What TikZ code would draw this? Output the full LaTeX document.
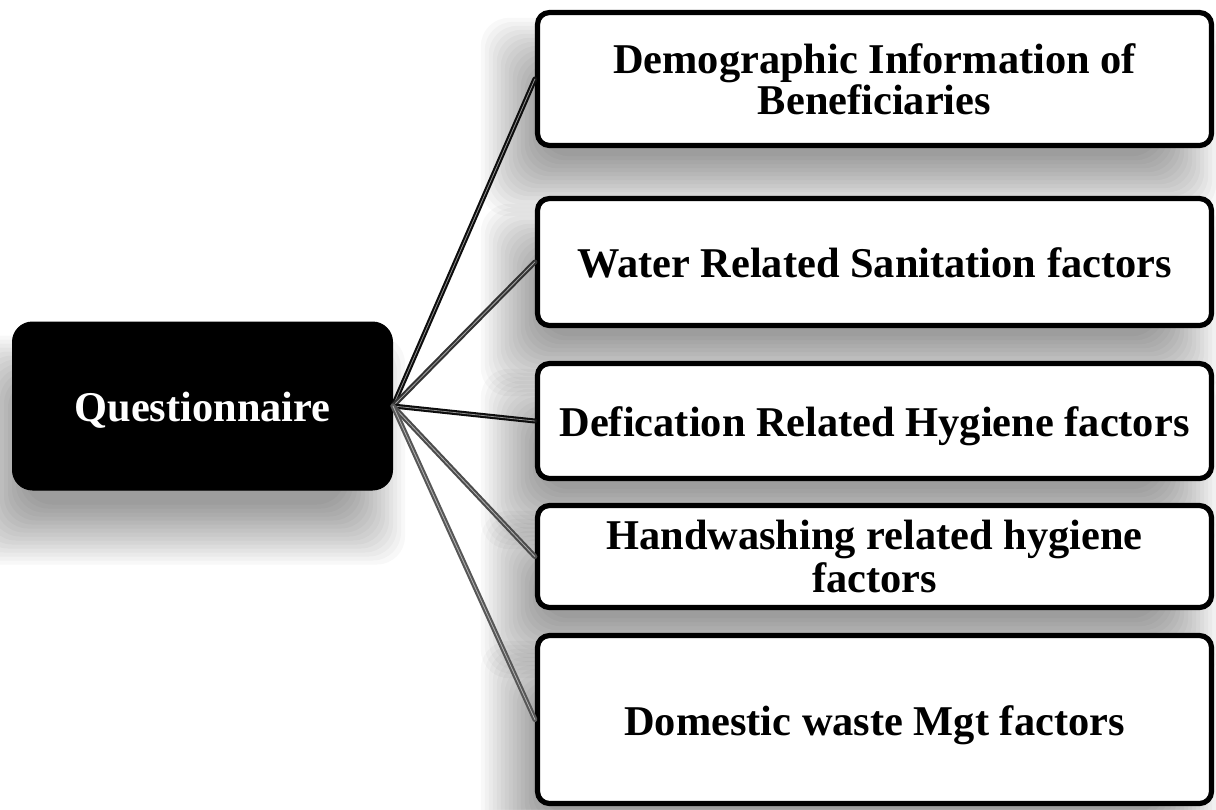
\documentclass[tikz,border=0pt]{standalone}
\usepackage{fontspec}
\setmainfont{Liberation Serif}
\usetikzlibrary{calc,backgrounds}
\colorlet{lineA}{black!95}
\colorlet{lineB}{black!80}
\colorlet{lineC}{black!70}
\colorlet{lineD}{black!66}
\newcommand\castshadow[3]{% node, xshift px, yshift px
  \foreach \i in {0,...,15}{%
    \pgfmathsetmacro\e{30-60*\i/15}%
    \fill[black, opacity=0.028, rounded corners=14pt]
      ($(#1.north west)+({#2-\e},{#3-\e})$) rectangle
      ($(#1.south east)+({#2+\e},{#3+\e})$);
  }%
}
\begin{document}
\begin{tikzpicture}[x=0.5pt,y=-0.5pt,
  bigfont/.style={font=\fontsize{21.2}{19}\selectfont\bfseries},
  oneline/.style={text height=20pt, text depth=4.2pt},
  item/.style={draw=black, line width=2.6pt, fill=white, rounded corners=6pt,
      minimum width=337pt, inner sep=0pt, align=center, text=black, bigfont},
  qbox/.style={draw=black, line width=0.5pt, fill=black, rounded corners=10pt,
      minimum width=190pt, minimum height=84pt, inner sep=0pt, text=white,
      bigfont, oneline},
  conn/.style={line width=2.5pt, line cap=round, draw=#1,
      postaction={draw=#1!45!white, line width=0.4pt}}
]
\useasboundingbox (0,0) rectangle (1216,809);

\node[qbox] (q) at (202.5,406) {Questionnaire};

\node[item, minimum height=66.5pt] (b1) at (874.5,79)
  {Demographic Information of\\Beneficiaries};
\node[item, oneline, minimum height=63.5pt] (b2) at (874.5,262)
  {Water Related Sanitation factors};
\node[item, oneline, minimum height=57.5pt] (b3) at (874.5,421)
  {Defication Related Hygiene factors};
\node[item, minimum height=51pt, font=\fontsize{21.2}{21.5}\selectfont\bfseries] (b4) at (874.5,556.5)
  {Handwashing related hygiene\\factors};
\node[item, oneline, minimum height=84pt] (b5) at (874.5,719.5)
  {Domestic waste Mgt factors};

\begin{scope}[on background layer]
  \fill[white] (0,0) rectangle (1216,809);
  \castshadow{q}{-18}{44}
  \castshadow{b1}{-24}{38}
  \castshadow{b2}{-24}{38}
  \castshadow{b3}{-24}{38}
  \castshadow{b4}{-24}{38}
  \castshadow{b5}{-24}{38}
\end{scope}

\draw[conn=lineA] (q.east) -- (b1.west);
\draw[conn=lineB] (q.east) -- (b2.west);
\draw[conn=lineA] (q.east) -- (b3.west);
\draw[conn=lineC] (q.east) -- (b4.west);
\draw[conn=lineD] (q.east) -- (b5.west);
\end{tikzpicture}
\end{document}
